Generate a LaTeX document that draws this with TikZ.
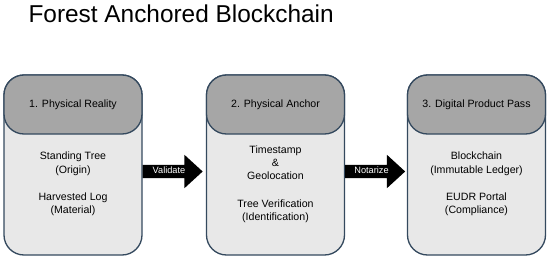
\documentclass[tikz,border=0pt]{standalone}
\usepackage{fontspec}
\setmainfont{Liberation Sans}
\usetikzlibrary{shapes.arrows}
\definecolor{edgeslate}{HTML}{34495E}
\definecolor{headgray}{HTML}{A6A6A6}
\definecolor{bodygray}{HTML}{E8E8E8}
\tikzset{
  stagebody/.style={draw=edgeslate, fill=bodygray, line width=1.3pt, rounded corners=20pt, minimum width=138pt, minimum height=180pt},
  stagehead/.style={draw=edgeslate, fill=headgray, line width=1.3pt, rounded corners=20pt, minimum width=138pt, minimum height=59pt, font=\fontsize{10.6}{12}\selectfont},
  stagetext/.style={align=center, font=\fontsize{10.6}{13.3}\selectfont},
  flowarrow/.style={single arrow, fill=black, text=white, minimum height=60pt, single arrow head extend=10pt, single arrow tip angle=85, inner xsep=2pt, inner ysep=2.35pt, text height=6.5pt, text depth=1.8pt, font=\fontsize{9.2}{10}\selectfont}
}
\begin{document}
\begin{tikzpicture}[x=1pt, y=-1pt]
            \useasboundingbox (0,0) rectangle (550,260);
            \node[anchor=base west, font=\fontsize{24.4}{28}\selectfont] (title) at (25,22) {Forest Anchored Blockchain};
            \node[stagebody] (b1) at (73,165) {};
            \node[stagebody] (b2) at (275.5,165) {};
            \node[stagebody] (b3) at (476.5,165) {};
            \node[stagehead] (h1) at (73,104.5) {1. Physical Reality};
            \node[stagehead] (h2) at (275.5,104.5) {2. Physical Anchor};
            \node[stagehead] (h3) at (476.5,104.5) {3. Digital Product Pass};
            \node[stagetext] (t1) at (73,184) {Standing Tree\\(Origin)\\[14pt]Harvested Log\\(Material)};
            \node[stagetext] (t2) at (275.5,184) {Timestamp\\\&\\Geolocation\\[14pt]Tree Verification\\(Identification)};
            \node[stagetext] (t3) at (476.5,184) {Blockchain\\(Immutable Ledger)\\[14pt]EUDR Portal\\(Compliance)};
            \node[flowarrow] (validate) at (169,171.5) {Validate};
            \node[flowarrow] (notarize) at (371.5,171.5) {Notarize};
\end{tikzpicture}
\end{document}
